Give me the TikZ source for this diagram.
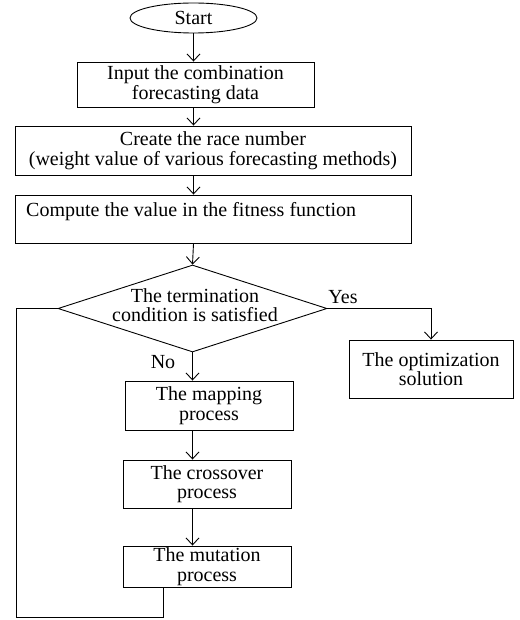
\documentclass[tikz,border=0pt]{standalone}
\usepackage{fontspec}
\setmainfont{Liberation Serif}
\usetikzlibrary{shapes.geometric,arrows.meta}
\begin{document}
\begin{tikzpicture}[x=1pt,y=-1pt,
  every node/.style={font=\fontsize{20}{19.5}\selectfont},
  box/.style={draw, line width=0.9pt, align=center, inner sep=0pt},
  txt/.style={align=center, inner sep=0pt},
  arr/.style={-{Straight Barb[length=7pt,width=13pt,line width=0.9pt]}, line width=0.9pt},
  plain/.style={line width=0.9pt}]
\useasboundingbox (0,0) rectangle (519,620);
\node[box, ellipse, minimum width=127pt, minimum height=30pt] (start) at (193.5,18) {Start};
\node[box, minimum width=237pt, minimum height=45pt] (in) at (195.5,84.5) {Input the combination\\forecasting data};
\node[box, minimum width=396pt, minimum height=49pt] (race) at (213,150.5) {Create the race number\\(weight value of various forecasting methods)};
\node[box, minimum width=396pt, minimum height=48pt] (fit) at (213,219) {};
\node[txt, anchor=west] (fitt) at (26,212) {Compute the value in the fitness function};
\node[box, diamond, minimum width=269pt, minimum height=87pt] (dec) at (192.5,308.5) {};
\node[txt] (dect) at (195,305) {The termination\\condition is satisfied};
\node[box, minimum width=164pt, minimum height=58pt] (opt) at (431,369) {The optimization\\solution};
\node[box, minimum width=168pt, minimum height=49pt] (map) at (209,405.5) {The mapping\\process};
\node[box, minimum width=168pt, minimum height=48pt] (cross) at (207,484) {The crossover\\process};
\node[box, minimum width=168pt, minimum height=41pt] (mut) at (207,566.5) {The mutation\\process};
\node[txt] (yes) at (343,297) {Yes};
\node[txt] (no) at (163,362) {No};
\coordinate (loop) at (16,617);
\draw[arr] (start.south) -- (start.south |- in.north);
\draw[arr] (in.south -| start.south) -- (race.north -| start.south);
\draw[arr] (race.south -| start.south) -- (fit.north -| start.south);
\draw[arr] (fit.south -| start.south) -- (dec.north);
\draw[arr] (dec.south) -- (dec.south |- map.north);
\draw[arr] (map.south -| dec.south) -- (cross.north -| dec.south);
\draw[arr] (cross.south -| dec.south) -- (mut.north -| dec.south);
\draw[arr] (dec.east) -| (opt.north);
\draw[plain] ([xshift=-44pt]mut.south) |- (loop) |- (dec.west);
\end{tikzpicture}
\end{document}
